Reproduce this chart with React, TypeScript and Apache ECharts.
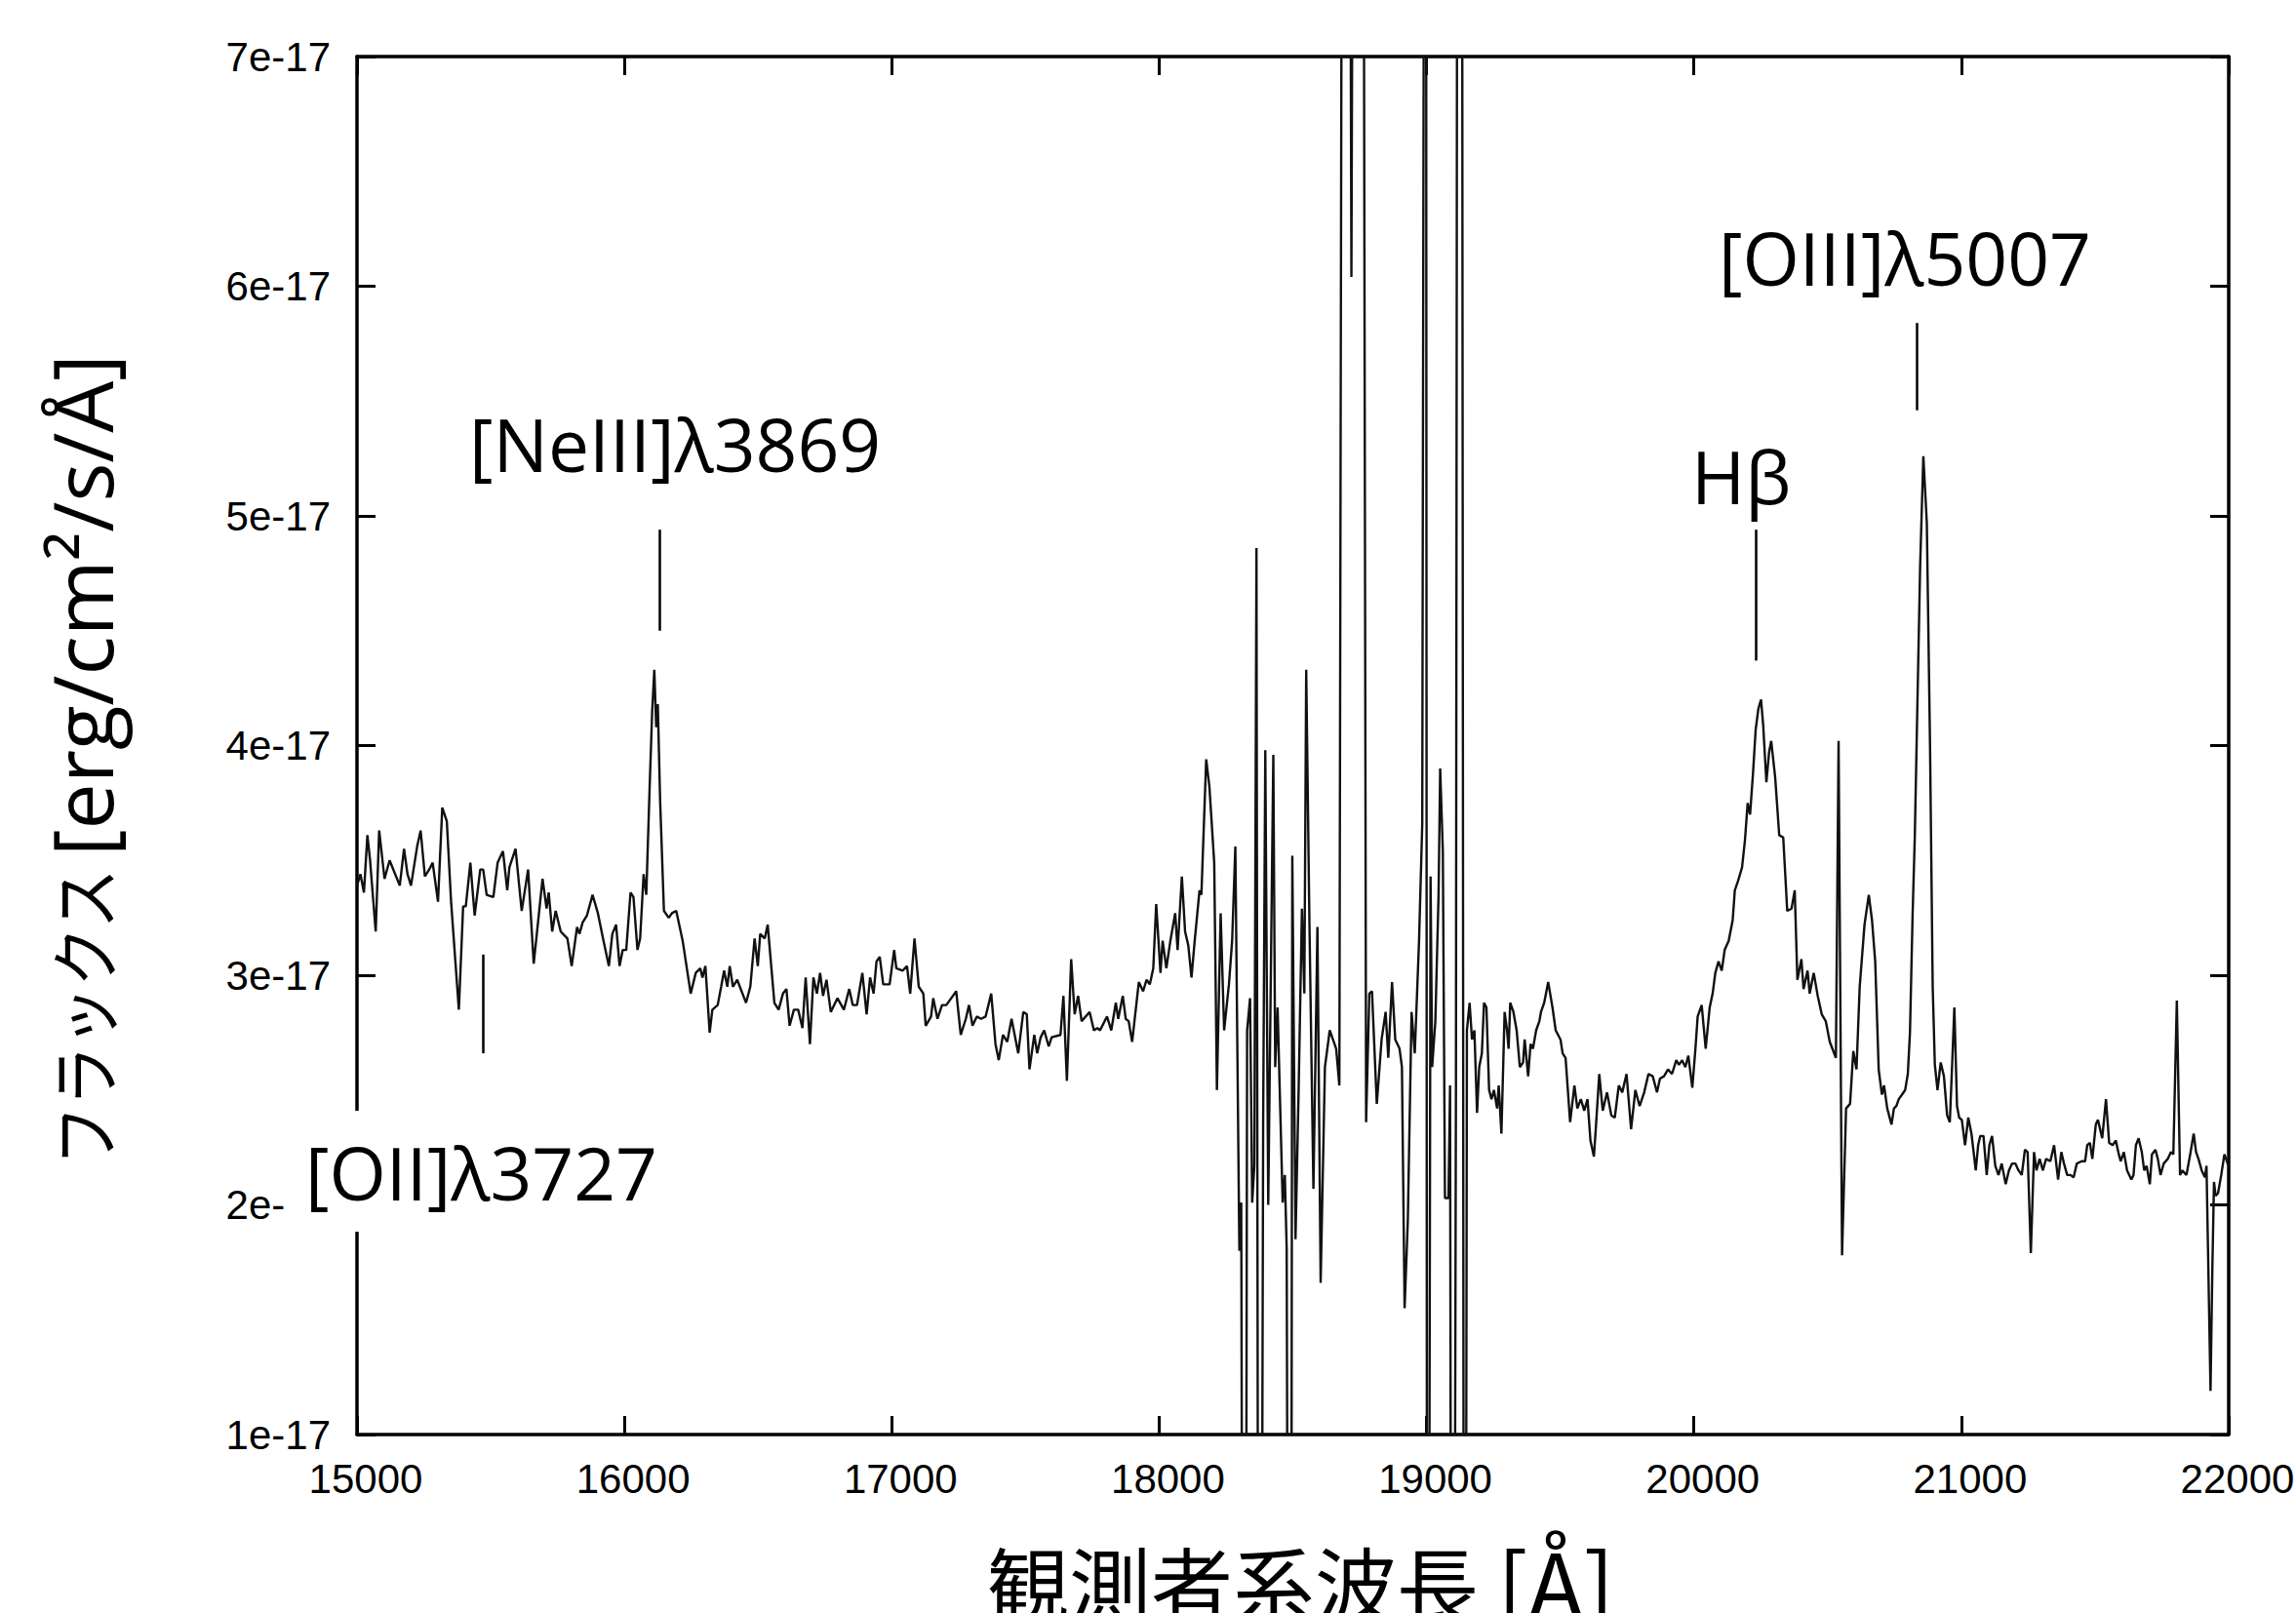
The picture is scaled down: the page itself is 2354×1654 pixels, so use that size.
import React, { useEffect, useRef } from "react";
import * as echarts from "echarts";

// Axis ranges (flux in units of 1e-17 erg/cm^2/s/Å)
const X_MIN = 15000;
const X_MAX = 22000;
const X_STEP = 1000;
const Y_MIN = 1;
const Y_MAX = 7;
const Y_STEP = 1;
const Y_SUFFIX = "e-17";

// Observed spectrum: [wavelength Å, flux (1e-17)]; 12 / -4 = off-scale excursions
const spectrum: [number, number][] = [
  [15000, 3.39], [15013, 3.44], [15026, 3.36], [15039, 3.61], [15049, 3.5], [15070, 3.19], [15083, 3.63],
  [15103, 3.42], [15122, 3.5], [15160, 3.39], [15176, 3.55], [15189, 3.44], [15202, 3.39], [15225, 3.56],
  [15238, 3.63], [15254, 3.43], [15270, 3.46], [15283, 3.49], [15303, 3.32], [15319, 3.73], [15336, 3.67],
  [15352, 3.32], [15368, 3.06], [15381, 2.85], [15397, 3.3], [15407, 3.3], [15424, 3.49], [15440, 3.26],
  [15461, 3.46], [15472, 3.46], [15485, 3.35], [15510, 3.34], [15526, 3.49], [15546, 3.54], [15562, 3.37],
  [15570, 3.47], [15593, 3.55], [15616, 3.28], [15640, 3.46], [15661, 3.05], [15694, 3.42], [15709, 3.29],
  [15717, 3.36], [15730, 3.19], [15743, 3.28], [15762, 3.19], [15787, 3.16], [15803, 3.04], [15823, 3.21],
  [15832, 3.18], [15844, 3.23], [15860, 3.26], [15881, 3.35], [15901, 3.27], [15922, 3.15], [15942, 3.04],
  [15955, 3.18], [15969, 3.22], [15982, 3.04], [15994, 3.11], [16007, 3.11], [16023, 3.36], [16034, 3.34],
  [16049, 3.11], [16059, 3.16], [16072, 3.44], [16082, 3.35], [16094, 3.8], [16104, 4.15], [16112, 4.33],
  [16119, 4.08], [16125, 4.18], [16134, 3.75], [16148, 3.28], [16166, 3.25], [16178, 3.27], [16194, 3.28],
  [16218, 3.15], [16248, 2.92], [16267, 3.01], [16284, 3.03], [16292, 2.99], [16303, 3.04], [16319, 2.75],
  [16329, 2.85], [16349, 2.87], [16362, 2.95], [16373, 3.02], [16385, 2.95], [16394, 3.04], [16406, 2.95],
  [16422, 2.98], [16455, 2.88], [16471, 2.95], [16487, 3.16], [16499, 3.04], [16508, 3.18], [16525, 3.16],
  [16536, 3.22], [16561, 2.88], [16577, 2.85], [16593, 2.92], [16606, 2.94], [16618, 2.78], [16634, 2.85],
  [16650, 2.85], [16666, 2.77], [16678, 2.99], [16694, 2.7], [16707, 2.99], [16720, 2.92], [16732, 3.01],
  [16743, 2.91], [16756, 2.98], [16772, 2.84], [16797, 2.9], [16821, 2.85], [16841, 2.94], [16854, 2.87],
  [16870, 2.87], [16890, 3.01], [16906, 2.83], [16919, 2.99], [16932, 2.92], [16943, 3.06], [16955, 3.08],
  [16968, 2.96], [16992, 2.96], [17009, 3.11], [17017, 3.03], [17041, 3.02], [17057, 3.04], [17069, 2.92],
  [17085, 3.16], [17101, 2.95], [17118, 2.92], [17127, 2.78], [17147, 2.82], [17155, 2.9], [17171, 2.81],
  [17188, 2.87], [17204, 2.87], [17241, 2.93], [17258, 2.74], [17277, 2.81], [17289, 2.87], [17302, 2.78],
  [17318, 2.82], [17334, 2.81], [17351, 2.82], [17372, 2.92], [17388, 2.7], [17400, 2.63], [17416, 2.74],
  [17432, 2.71], [17448, 2.81], [17473, 2.66], [17492, 2.84], [17505, 2.83], [17515, 2.59], [17533, 2.74],
  [17544, 2.66], [17557, 2.73], [17570, 2.76], [17587, 2.69], [17598, 2.73], [17631, 2.74], [17642, 2.91],
  [17655, 2.54], [17671, 3.07], [17684, 2.83], [17697, 2.91], [17710, 2.8], [17740, 2.84], [17756, 2.76],
  [17769, 2.77], [17779, 2.76], [17805, 2.82], [17821, 2.76], [17838, 2.88], [17847, 2.81], [17864, 2.91],
  [17875, 2.81], [17886, 2.8], [17899, 2.71], [17924, 2.97], [17940, 2.93], [17953, 2.98], [17965, 2.96],
  [17978, 3.03], [17989, 3.31], [18005, 3.01], [18013, 3.15], [18027, 3.03], [18042, 3.15], [18060, 3.27],
  [18069, 3.11], [18085, 3.43], [18097, 3.19], [18109, 3.13], [18121, 2.99], [18133, 3.15], [18151, 3.37],
  [18158, 3.35], [18176, 3.94], [18188, 3.82], [18206, 3.49], [18216, 2.5], [18230, 3.27], [18243, 2.76],
  [18261, 2.96], [18273, 3.15], [18285, 3.56], [18300, 1.8], [18307, 2.01], [18319, -4], [18329, 2.76],
  [18340, 2.9], [18348, 2.01], [18356, 2.17], [18364, 4.86], [18375, -4], [18389, 2.37], [18397, 3.98],
  [18408, 2.0], [18427, 3.96], [18434, 2.6], [18443, 2.86], [18462, 2.01], [18470, 2.13], [18477, 1.81],
  [18490, -4], [18498, 3.52], [18510, 1.85], [18522, 2.52], [18534, 3.29], [18543, 2.92], [18550, 4.33],
  [18562, 3.23], [18577, 2.07], [18592, 3.21], [18604, 1.66], [18620, 2.6], [18638, 2.76], [18650, 2.72],
  [18662, 2.68], [18674, 2.52], [18690, 12], [18705, 12], [18719, 6.04], [18735, 12], [18758, 12],
  [18774, 2.36], [18786, 2.92], [18796, 2.93], [18814, 2.44], [18832, 2.72], [18847, 2.84], [18857, 2.64],
  [18871, 2.97], [18883, 2.72], [18899, 2.68], [18908, 2.6], [18918, 1.55], [18930, 1.93], [18944, 2.84],
  [18956, 2.66], [18972, 3.15], [18984, 3.66], [18997, 12], [19003, -4], [19015, 3.43], [19021, 2.6],
  [19033, 2.8], [19045, 3.35], [19051, 3.9], [19061, 3.54], [19069, 2.03], [19082, 2.03], [19088, 2.52],
  [19097, -4], [19110, 2.52], [19118, 12], [19130, 12], [19142, -4], [19151, 2.76], [19161, 2.88],
  [19170, 2.72], [19179, 2.76], [19189, 2.4], [19197, 2.6], [19207, 2.66], [19215, 2.88], [19224, 2.86],
  [19234, 2.5], [19243, 2.46], [19252, 2.5], [19264, 2.42], [19270, 2.52], [19280, 2.31], [19292, 2.84],
  [19301, 2.76], [19307, 2.68], [19313, 2.88], [19325, 2.84], [19337, 2.76], [19349, 2.6], [19361, 2.62],
  [19367, 2.72], [19380, 2.56], [19389, 2.7], [19398, 2.68], [19410, 2.76], [19422, 2.8], [19428, 2.84],
  [19440, 2.88], [19455, 2.97], [19471, 2.86], [19483, 2.76], [19501, 2.72], [19509, 2.66], [19520, 2.64],
  [19537, 2.36], [19553, 2.52], [19564, 2.42], [19577, 2.46], [19590, 2.41], [19602, 2.46], [19613, 2.28],
  [19626, 2.21], [19634, 2.35], [19646, 2.57], [19659, 2.41], [19675, 2.49], [19691, 2.39], [19704, 2.38],
  [19719, 2.52], [19732, 2.49], [19748, 2.57], [19765, 2.33], [19781, 2.5], [19797, 2.43], [19814, 2.49],
  [19830, 2.57], [19846, 2.56], [19862, 2.49], [19873, 2.55], [19888, 2.56], [19903, 2.59], [19918, 2.57],
  [19934, 2.63], [19944, 2.61], [19956, 2.63], [19968, 2.6], [19979, 2.65], [19994, 2.51], [20005, 2.67],
  [20014, 2.82], [20029, 2.87], [20044, 2.68], [20059, 2.86], [20070, 2.92], [20080, 3.01], [20092, 3.06],
  [20104, 3.02], [20115, 3.11], [20130, 3.15], [20145, 3.24], [20153, 3.37], [20165, 3.41], [20180, 3.47],
  [20191, 3.59], [20201, 3.75], [20210, 3.7], [20221, 3.88], [20231, 4.07], [20241, 4.16], [20251, 4.2],
  [20259, 4.09], [20271, 3.84], [20281, 3.97], [20289, 4.02], [20304, 3.86], [20319, 3.61], [20334, 3.6],
  [20349, 3.28], [20365, 3.29], [20377, 3.37], [20387, 2.98], [20402, 3.07], [20410, 2.94], [20425, 3.02],
  [20433, 2.92], [20448, 3.01], [20463, 2.91], [20478, 2.83], [20493, 2.8], [20508, 2.71], [20531, 2.64],
  [20541, 4.02], [20554, 1.78], [20569, 2.42], [20584, 2.44], [20596, 2.67], [20608, 2.59], [20620, 2.95],
  [20638, 3.22], [20654, 3.35], [20666, 3.24], [20678, 3.06], [20691, 2.59], [20703, 2.48], [20711, 2.52],
  [20723, 2.42], [20739, 2.35], [20748, 2.42], [20757, 2.43], [20766, 2.46], [20778, 2.48], [20790, 2.5],
  [20800, 2.57], [20808, 2.75], [20818, 3.27], [20826, 3.6], [20846, 4.78], [20858, 5.26], [20871, 4.97],
  [20883, 4.0], [20893, 2.95], [20901, 2.61], [20911, 2.5], [20923, 2.62], [20935, 2.56], [20947, 2.39],
  [20957, 2.36], [20966, 2.62], [20974, 2.86], [20984, 2.43], [20992, 2.38], [21002, 2.37], [21014, 2.26],
  [21026, 2.38], [21038, 2.31], [21054, 2.15], [21063, 2.26], [21071, 2.3], [21083, 2.3], [21095, 2.13],
  [21105, 2.26], [21115, 2.3], [21127, 2.17], [21139, 2.13], [21151, 2.18], [21166, 2.09], [21178, 2.15],
  [21190, 2.18], [21202, 2.18], [21214, 2.15], [21226, 2.13], [21238, 2.24], [21248, 2.23], [21260, 1.79],
  [21272, 2.23], [21281, 2.15], [21293, 2.2], [21305, 2.15], [21317, 2.2], [21333, 2.19], [21347, 2.26],
  [21362, 2.11], [21374, 2.23], [21384, 2.18], [21396, 2.13], [21408, 2.13], [21420, 2.12], [21432, 2.18],
  [21450, 2.19], [21463, 2.19], [21471, 2.26], [21481, 2.27], [21490, 2.2], [21503, 2.35], [21511, 2.37],
  [21527, 2.29], [21541, 2.46], [21553, 2.27], [21566, 2.26], [21578, 2.28], [21587, 2.23], [21596, 2.19],
  [21608, 2.23], [21620, 2.15], [21636, 2.11], [21644, 2.13], [21653, 2.26], [21663, 2.29], [21675, 2.23],
  [21684, 2.15], [21693, 2.17], [21705, 2.09], [21713, 2.22], [21726, 2.24], [21735, 2.2], [21745, 2.13],
  [21757, 2.18], [21772, 2.2], [21784, 2.23], [21793, 2.22], [21806, 2.89], [21818, 2.13], [21826, 2.15],
  [21842, 2.13], [21856, 2.22], [21869, 2.31], [21878, 2.23], [21887, 2.2], [21899, 2.15], [21911, 2.12],
  [21917, 2.17], [21932, 1.19], [21939, 1.73], [21945, 2.1], [21951, 2.04], [21960, 2.05], [21972, 2.13],
  [21984, 2.22], [21996, 2.18], [22000, 2.17],
];

// Emission line identifications
const lineNames = ["[OII]λ3727", "[NeIII]λ3869", "Hβ", "[OIII]λ5007"];
const lineWavelengths = [15471, 16130, 20231, 20833];
const lineMarkTop = [3.09, 4.94, 4.94, 5.84];
const lineMarkBottom = [2.66, 4.5, 4.37, 5.46];

const xTitleMain = "観測者系波長 ";
const xTitleUnit = "[Å]";
const yTitleKana = "フラックス";
const yTitleUnit = "[erg/cm²/s/Å]";

// layout (pixels)
const W = 2354;
const H = 1654;
const GRID = { left: 366, top: 58, right: 69, bottom: 183 };
const labelPos: [number, number][] = [
  [313, 1202],
  [481, 455],
  [1734, 488],
  [1762, 264],
];

export default function App() {
  const ref = useRef<HTMLDivElement>(null);

  useEffect(() => {
    if (!ref.current) return;
    const chart = echarts.init(ref.current, undefined, { renderer: "svg" });

    const axisLine = { show: true, onZero: false, lineStyle: { color: "#000", width: 3.5 } };
    const axisTick = { show: true, inside: true, length: 19, lineStyle: { color: "#000", width: 3 } };
    const tickFont = { fontFamily: "Liberation Sans", fontSize: 42, color: "#000" };

    const xBase = { type: "value", min: X_MIN, max: X_MAX, interval: X_STEP, splitLine: { show: false }, axisLine, axisTick };
    const yBase = { type: "value", min: Y_MIN, max: Y_MAX, interval: Y_STEP, splitLine: { show: false }, axisLine, axisTick };

    const graphics: any[] = [
      {
        type: "rect",
        z: 100,
        shape: { x: 291, y: 1139, width: 415, height: 124 },
        style: { fill: "#fff" },
      },
      ...lineNames.map((name, i) => ({
        type: "text",
        z: 101,
        x: labelPos[i][0],
        y: labelPos[i][1],
        style: {
          text: name,
          fontFamily: "Open Sans",
          fontSize: 75,
          fill: "#000",
          align: "left",
          verticalAlign: "middle",
          textAlign: "left",
          textVerticalAlign: "middle",
        },
      })),
      {
        type: "text",
        z: 101,
        x: 1012,
        y: 1621,
        style: {
          text: `{a|${xTitleMain}}{b|${xTitleUnit}}`,
          fill: "#000",
          align: "left",
          verticalAlign: "middle",
          textAlign: "left",
          textVerticalAlign: "middle",
          rich: {
            a: { fontFamily: "Noto Sans CJK JP", fontSize: 84, fill: "#000", verticalAlign: "middle" },
            b: { fontFamily: "Noto Sans CJK JP", fontSize: 94, fill: "#000", verticalAlign: "middle" },
          },
        },
      },
      {
        type: "text",
        z: 101,
        x: 83,
        y: 1195,
        rotation: Math.PI / 2,
        scaleX: 0.85,
        style: {
          text: yTitleKana,
          fontFamily: "Noto Sans CJK JP",
          fontSize: 72,
          fill: "#000",
          align: "left",
          verticalAlign: "middle",
          textAlign: "left",
          textVerticalAlign: "middle",
        },
      },
      {
        type: "text",
        z: 101,
        x: 83,
        y: 878,
        rotation: Math.PI / 2,
        style: {
          text: yTitleUnit,
          fontFamily: "Open Sans",
          fontSize: 84,
          fill: "#000",
          align: "left",
          verticalAlign: "middle",
          textAlign: "left",
          textVerticalAlign: "middle",
        },
      },
    ];

    chart.setOption({
      animation: false,
      backgroundColor: "#fff",
      grid: { ...GRID, containLabel: false, outerBoundsMode: "none" },
      xAxis: [
        {
          ...xBase,
          position: "bottom",
          axisLabel: { ...tickFont, margin: 24, padding: [0, 0, 0, 18], formatter: (v: number) => String(v) },
        },
        { ...xBase, position: "top", axisLabel: { show: false } },
      ],
      yAxis: [
        {
          ...yBase,
          position: "left",
          axisLabel: { ...tickFont, margin: 27, formatter: (v: number) => `${v}${Y_SUFFIX}` },
        },
        { ...yBase, position: "right", axisLabel: { show: false } },
      ],
      series: [
        {
          type: "line",
          xAxisIndex: 0,
          yAxisIndex: 0,
          data: spectrum,
          symbol: "none",
          showSymbol: false,
          clip: true,
          lineStyle: { color: "#111", width: 2.4 },
          z: 3,
          markLine: {
            silent: true,
            symbol: ["none", "none"],
            label: { show: false },
            lineStyle: { color: "#000", width: 2.5, type: "solid" },
            data: lineWavelengths.map((w, i) => [
              { coord: [w, lineMarkTop[i]] },
              { coord: [w, lineMarkBottom[i]] },
            ]),
          },
        },
      ],
      graphic: graphics,
    });

    return () => chart.dispose();
  }, []);

  return (
    <div
      ref={ref}
      style={{ position: "fixed", left: 0, top: 0, width: W, height: H, background: "#fff" }}
    />
  );
}
